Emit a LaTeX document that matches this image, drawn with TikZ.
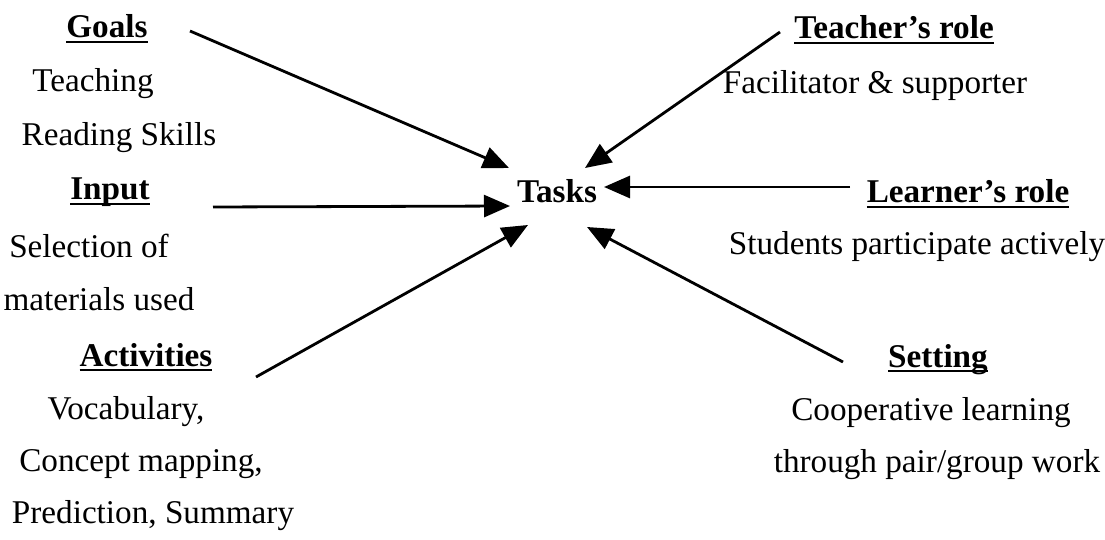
\documentclass[tikz,border=0pt]{standalone}
\usepackage{fontspec}
\setmainfont{Liberation Serif}
\usetikzlibrary{arrows.meta}
\newcommand\uln[1]{\setbox0=\hbox{#1}\hbox{\rlap{\raisebox{-2.6pt}{\rule{\wd0}{1.1pt}}}\box0}}
\begin{document}
\begin{tikzpicture}[x=0.5pt,y=-0.5pt,
  txt/.style={inner sep=0pt,anchor=base,font=\fontsize{16.6}{20}\selectfont},
  hd/.style={inner sep=0pt,anchor=base,font=\fontsize{16.6}{20}\selectfont\bfseries},
  arr/.style={line width=1.4pt,-{Triangle[length=13pt,width=11pt]}}]
\useasboundingbox[fill=white] (0,0) rectangle (1105,540);
% left
\node[hd]  (goals) at (107,38) {\uln{Goals}};
\node[txt] (g1) at (93,92) {Teaching};
\node[txt] (g2) at (119,146) {Reading Skills};
\node[hd]  (input) at (110,200) {\uln{Input}};
\node[txt] (i1) at (89,257) {Selection of};
\node[txt] (i2) at (99,311) {materials used};
\node[hd]  (act) at (146,366) {\uln{Activities}};
\node[txt] (a1) at (126,419) {Vocabulary,};
\node[txt] (a2) at (141,472) {Concept mapping,};
\node[txt] (a3) at (153,523) {Prediction, Summary};
% centre
\node[hd]  (tasks) at (557,203) {Tasks};
% right
\node[hd]  (teach) at (894,39) {\uln{Teacher's role}};
\node[txt] (t1) at (875,94) {Facilitator \& supporter};
\node[hd]  (learn) at (968,203) {\uln{Learner's role}};
\node[txt] (l1) at (917,255) {Students participate actively};
\node[hd]  (set) at (938,367) {\uln{Setting}};
\node[txt] (s1) at (931,421) {Cooperative learning};
\node[txt] (s2) at (937,473) {through pair/group work};
% arrow endpoints
\coordinate (gS) at (190,31);  \coordinate (gE) at (509,168);
\coordinate (iS) at (213,207); \coordinate (iE) at (510,206);
\coordinate (aS) at (256,377); \coordinate (aE) at (528,225);
\coordinate (tS) at (780,32);  \coordinate (tE) at (585,168);
\coordinate (lS) at (850,187); \coordinate (lE) at (604,187);
\coordinate (sS) at (843,362); \coordinate (sE) at (587,227);
\draw[arr] (gS) -- (gE);
\draw[arr] (iS) -- (iE);
\draw[arr] (aS) -- (aE);
\draw[arr] (tS) -- (tE);
\draw[arr] (lS) -- (lE);
\draw[arr] (sS) -- (sE);
\end{tikzpicture}
\end{document}
